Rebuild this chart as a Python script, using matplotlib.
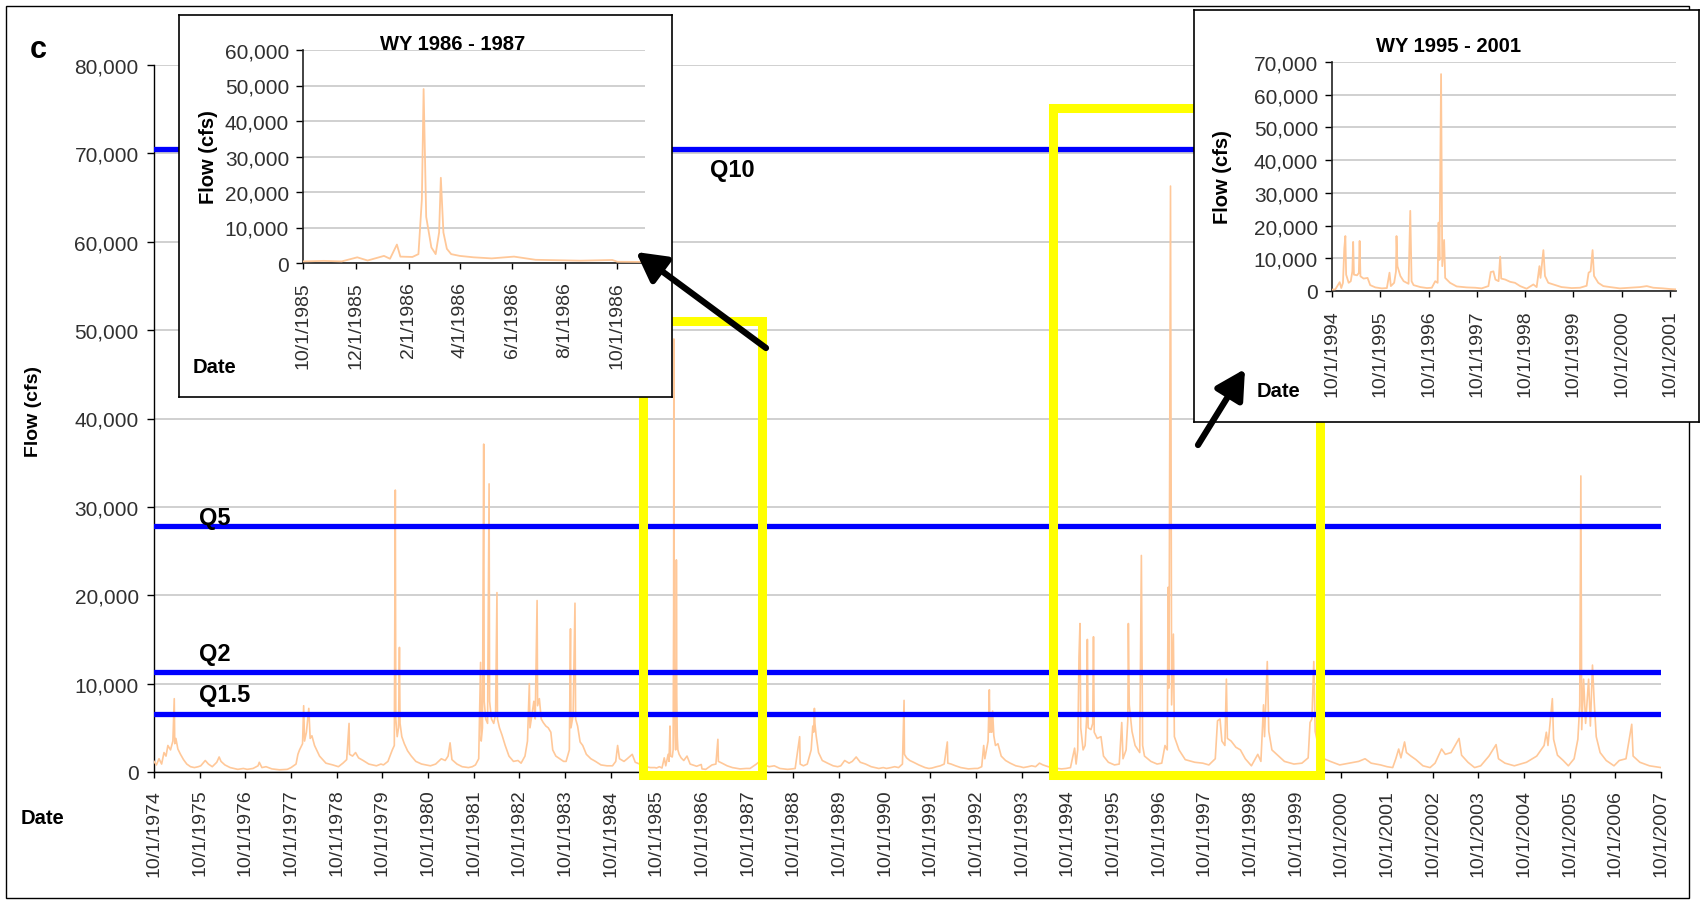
import matplotlib
matplotlib.use("Agg")
import matplotlib.pyplot as plt
import matplotlib.dates as mdates
from matplotlib.ticker import FuncFormatter, MultipleLocator
from matplotlib.patches import Rectangle
import pandas as pd

plt.rcParams['font.family'] = ['Liberation Sans', 'DejaVu Sans']

# ---------------- data (daily flow, cfs, key points) ----------------
flow_1974_1980 = [
    ("1974-10-01", 1200), ("1974-10-20", 800), ("1974-11-10", 1500), ("1974-12-01", 900),
    ("1974-12-20", 2200), ("1975-01-05", 1800), ("1975-01-20", 3000), ("1975-02-10", 2500),
    ("1975-03-01", 3500), ("1975-03-12", 8300), ("1975-03-16", 3200), ("1975-03-25", 3800),
    ("1975-04-10", 2600), ("1975-05-01", 2000), ("1975-05-25", 1400), ("1975-06-20", 900),
    ("1975-07-20", 600), ("1975-08-20", 500), ("1975-09-20", 600),
    ("1975-10-10", 700), ("1975-11-15", 1300), ("1975-12-10", 900), ("1976-01-10", 600),
    ("1976-02-15", 1100), ("1976-03-05", 1700), ("1976-03-20", 1200), ("1976-04-20", 800),
    ("1976-06-01", 500), ("1976-08-01", 300), ("1976-09-15", 400),
    ("1976-10-15", 300), ("1976-12-01", 400), ("1977-01-10", 700), ("1977-01-20", 1100),
    ("1977-02-10", 500), ("1977-03-15", 600), ("1977-05-01", 350), ("1977-07-01", 250),
    ("1977-09-01", 300),
    ("1977-10-01", 500), ("1977-11-10", 900), ("1977-11-25", 2000), ("1977-12-08", 2500),
    ("1978-01-01", 3200), ("1978-01-10", 7500), ("1978-01-17", 3500), ("1978-02-01", 4500),
    ("1978-02-20", 7200), ("1978-03-03", 3800), ("1978-03-17", 4100), ("1978-04-07", 3000),
    ("1978-05-17", 1800), ("1978-07-07", 1000), ("1978-08-31", 800),
    ("1978-10-15", 600), ("1978-11-20", 1000), ("1978-12-20", 1400), ("1979-01-08", 5500),
    ("1979-01-12", 2000), ("1979-02-05", 1800), ("1979-03-01", 2200), ("1979-03-25", 1600),
    ("1979-05-01", 1300), ("1979-06-15", 900), ("1979-08-15", 700), ("1979-09-20", 900),
    ("1979-10-10", 800), ("1979-11-15", 1200), ("1979-12-20", 2500), ("1980-01-05", 3000),
    ("1980-01-13", 31900), ("1980-01-17", 6000), ("1980-01-28", 4000), ("1980-02-08", 5000),
    ("1980-02-15", 14100), ("1980-02-20", 5500), ("1980-03-05", 4000), ("1980-03-25", 3200),
    ("1980-04-20", 2400), ("1980-05-20", 1800), ("1980-06-25", 1200), ("1980-08-10", 900),
    ("1980-09-15", 800),
]

flow_1980_1985 = [
    ("1980-10-20", 700), ("1980-12-01", 900), ("1981-01-15", 1500), ("1981-02-15", 1300),
    ("1981-03-10", 1800), ("1981-03-26", 3300), ("1981-04-10", 1400), ("1981-05-20", 900),
    ("1981-07-01", 600), ("1981-08-20", 500), ("1981-09-20", 600),
    ("1981-10-15", 800), ("1981-11-10", 1500), ("1981-11-25", 12400), ("1981-11-30", 3500),
    ("1981-12-10", 5000), ("1981-12-20", 37100), ("1981-12-24", 8000), ("1982-01-05", 6000),
    ("1982-01-20", 5500), ("1982-02-01", 32600), ("1982-02-05", 8000), ("1982-02-20", 6000),
    ("1982-03-10", 5500), ("1982-03-25", 6500), ("1982-04-05", 20300), ("1982-04-09", 6000),
    ("1982-04-25", 5000), ("1982-05-15", 4200), ("1982-06-10", 3000), ("1982-07-10", 1800),
    ("1982-08-15", 1200), ("1982-09-20", 1300),
    ("1982-10-15", 1000), ("1982-11-15", 1800), ("1982-12-05", 3500), ("1982-12-20", 10000),
    ("1982-12-25", 5000), ("1983-01-10", 6500), ("1983-01-25", 8000), ("1983-02-05", 6000),
    ("1983-02-20", 19400), ("1983-02-24", 7500), ("1983-03-10", 8300), ("1983-03-25", 6000),
    ("1983-04-10", 5600), ("1983-05-01", 5200), ("1983-05-20", 5000), ("1983-06-10", 4500),
    ("1983-06-25", 2500), ("1983-07-20", 1800), ("1983-08-20", 1500), ("1983-09-20", 1200),
    ("1983-10-10", 1200), ("1983-11-05", 2500), ("1983-11-14", 16200), ("1983-11-18", 5000),
    ("1983-12-05", 6400), ("1983-12-20", 19100), ("1983-12-25", 6000), ("1984-01-10", 5200),
    ("1984-01-30", 3400), ("1984-02-20", 3000), ("1984-03-20", 2000), ("1984-04-25", 1500),
    ("1984-06-01", 1200), ("1984-07-15", 800), ("1984-09-01", 700),
    ("1984-10-15", 700), ("1984-11-10", 1200), ("1984-11-25", 3000), ("1984-12-10", 1500),
    ("1985-01-15", 1200), ("1985-02-10", 1500), ("1985-03-22", 2000), ("1985-04-15", 1100),
    ("1985-05-20", 900), ("1985-07-01", 600), ("1985-08-15", 500), ("1985-09-20", 500),
]

flow_1985_1994 = [
    ("1985-10-01", 450), ("1985-10-10", 500), ("1985-10-25", 600), ("1985-11-15", 450),
    ("1985-12-03", 1600), ("1985-12-15", 700), ("1986-01-03", 2000), ("1986-01-10", 1200),
    ("1986-01-18", 5200), ("1986-01-22", 1800), ("1986-02-05", 1700), ("1986-02-12", 2500),
    ("1986-02-16", 18000), ("1986-02-18", 49000), ("1986-02-21", 13000), ("1986-02-27", 4400),
    ("1986-03-04", 2500), ("1986-03-08", 8600), ("1986-03-10", 24000), ("1986-03-13", 8600),
    ("1986-03-17", 4000), ("1986-03-22", 2500), ("1986-04-01", 2000), ("1986-04-17", 1600),
    ("1986-05-08", 1300), ("1986-06-03", 1800), ("1986-06-28", 900), ("1986-08-19", 650),
    ("1986-09-25", 850), ("1986-10-01", 350), ("1986-10-31", 300),
    ("1986-11-20", 500), ("1986-12-20", 800), ("1987-01-20", 900), ("1987-02-05", 3700),
    ("1987-02-09", 1200), ("1987-03-10", 1000), ("1987-04-20", 700), ("1987-06-01", 500),
    ("1987-08-01", 350), ("1987-09-20", 400),
    ("1987-10-20", 400), ("1987-12-10", 900), ("1988-01-05", 1200), ("1988-02-15", 800),
    ("1988-03-20", 600), ("1988-05-01", 700), ("1988-06-15", 400), ("1988-08-15", 300),
    ("1988-09-20", 350),
    ("1988-10-15", 400), ("1988-11-20", 4000), ("1988-11-24", 900), ("1988-12-20", 700),
    ("1989-01-20", 900), ("1989-02-20", 2500), ("1989-03-05", 5200), ("1989-03-12", 4500),
    ("1989-03-18", 7200), ("1989-03-22", 5500), ("1989-04-01", 4100), ("1989-04-20", 2200),
    ("1989-05-20", 1300), ("1989-07-01", 1000), ("1989-08-15", 700), ("1989-09-20", 600),
    ("1989-10-15", 700), ("1989-11-15", 1300), ("1989-12-20", 1000), ("1990-01-15", 1200),
    ("1990-02-15", 1700), ("1990-03-20", 1100), ("1990-05-01", 900), ("1990-06-15", 600),
    ("1990-08-15", 400), ("1990-09-20", 500),
    ("1990-10-15", 400), ("1990-11-20", 500), ("1990-12-20", 600), ("1991-01-20", 500),
    ("1991-02-20", 900), ("1991-03-05", 8100), ("1991-03-08", 2000), ("1991-03-25", 1600),
    ("1991-04-20", 1300), ("1991-05-20", 1100), ("1991-07-01", 800), ("1991-08-20", 500),
    ("1991-09-20", 400),
    ("1991-10-15", 450), ("1991-11-20", 600), ("1991-12-20", 700), ("1992-01-20", 900),
    ("1992-02-14", 3400), ("1992-02-18", 1000), ("1992-03-15", 900), ("1992-04-20", 700),
    ("1992-06-01", 500), ("1992-08-01", 350), ("1992-09-20", 400),
    ("1992-10-15", 400), ("1992-11-15", 600), ("1992-12-01", 3000), ("1992-12-10", 1500),
    ("1993-01-05", 3500), ("1993-01-15", 9300), ("1993-01-20", 4500), ("1993-01-28", 6200),
    ("1993-02-03", 4500), ("1993-02-10", 6900), ("1993-02-20", 4100), ("1993-03-05", 3000),
    ("1993-03-25", 3200), ("1993-04-20", 1800), ("1993-05-25", 1300), ("1993-07-01", 1000),
    ("1993-08-15", 700), ("1993-09-20", 600),
    ("1993-10-15", 500), ("1993-11-20", 600), ("1993-12-20", 700), ("1994-01-20", 600),
    ("1994-02-20", 1000), ("1994-03-20", 800), ("1994-05-01", 600), ("1994-06-15", 450),
    ("1994-08-15", 350), ("1994-09-20", 400),
]

flow_1994_2001 = [
    ("1994-10-26", 500), ("1994-11-28", 2700), ("1994-12-10", 900), ("1994-12-23", 2500),
    ("1995-01-02", 13000), ("1995-01-10", 16800), ("1995-01-16", 5000), ("1995-02-04", 2500),
    ("1995-02-20", 3000), ("1995-03-04", 6000), ("1995-03-10", 15000), ("1995-03-16", 5000),
    ("1995-04-08", 4800), ("1995-04-22", 5500), ("1995-04-28", 15300), ("1995-05-04", 4500),
    ("1995-05-28", 3800), ("1995-06-27", 4000), ("1995-07-17", 1800), ("1995-08-25", 1100),
    ("1995-10-13", 800), ("1995-11-20", 900), ("1995-12-10", 5600), ("1995-12-20", 1500),
    ("1996-01-14", 2500), ("1996-01-28", 6000), ("1996-02-01", 16800), ("1996-02-08", 7600),
    ("1996-03-01", 4600), ("1996-03-26", 3000), ("1996-05-02", 2200), ("1996-05-15", 24500),
    ("1996-05-25", 3000), ("1996-06-09", 1800), ("1996-07-30", 1200), ("1996-09-18", 900),
    ("1996-10-25", 1000), ("1996-11-20", 3000), ("1996-12-08", 2500), ("1996-12-15", 20900),
    ("1996-12-22", 9500), ("1997-01-03", 66300), ("1997-01-12", 7600), ("1997-01-26", 15600),
    ("1997-02-03", 4000), ("1997-03-12", 2500), ("1997-05-01", 1400), ("1997-07-16", 1100),
    ("1997-09-18", 1000),
    ("1997-11-06", 800), ("1997-12-27", 1500), ("1998-01-14", 5800), ("1998-02-03", 6000),
    ("1998-02-18", 3500), ("1998-03-14", 3000), ("1998-03-26", 10500), ("1998-04-03", 3800),
    ("1998-05-03", 3500), ("1998-06-10", 2800), ("1998-07-16", 2500), ("1998-08-24", 1500),
    ("1998-10-12", 700), ("1998-12-02", 2000), ("1998-12-27", 1200), ("1999-01-17", 7600),
    ("1999-01-25", 4000), ("1999-02-16", 12500), ("1999-02-28", 4600), ("1999-03-25", 2500),
    ("1999-05-02", 2000), ("1999-07-03", 1200), ("1999-09-17", 900),
    ("1999-11-20", 1000), ("2000-01-09", 1600), ("2000-01-24", 5600), ("2000-02-08", 6000),
    ("2000-02-23", 12500), ("2000-03-05", 4600), ("2000-04-06", 2500), ("2000-05-14", 1500),
    ("2000-07-04", 1200), ("2000-09-17", 800),
    ("2000-12-01", 1000), ("2001-02-16", 1200), ("2001-04-08", 1500), ("2001-05-27", 1000),
    ("2001-08-10", 800), ("2001-10-01", 600), ("2001-11-15", 500),
]

flow_2001_2007 = [
    ("2001-12-10", 1500), ("2002-01-02", 2600), ("2002-01-20", 1600), ("2002-02-18", 3400),
    ("2002-03-05", 2200), ("2002-04-10", 1800), ("2002-05-20", 1400), ("2002-07-15", 700),
    ("2002-09-10", 500),
    ("2002-10-20", 1000), ("2002-12-11", 2600), ("2003-01-10", 2000), ("2003-02-25", 2200),
    ("2003-04-30", 3800), ("2003-05-20", 1900), ("2003-07-10", 1100), ("2003-09-01", 500),
    ("2003-10-20", 700), ("2003-12-25", 1800), ("2004-02-20", 3100), ("2004-03-10", 1500),
    ("2004-05-01", 1000), ("2004-07-15", 700),
    ("2004-10-20", 1100), ("2005-01-10", 1800), ("2005-03-10", 3000), ("2005-03-28", 4500),
    ("2005-04-10", 3000), ("2005-05-15", 8300), ("2005-05-25", 3700), ("2005-06-25", 1900),
    ("2005-08-10", 1300), ("2005-09-20", 700),
    ("2005-11-05", 1500), ("2005-12-05", 3700), ("2005-12-20", 7500), ("2005-12-29", 33500),
    ("2006-01-05", 4800), ("2006-01-20", 10500), ("2006-02-05", 5500), ("2006-03-01", 10500),
    ("2006-03-15", 5200), ("2006-04-01", 12100), ("2006-04-15", 7900), ("2006-05-01", 4000),
    ("2006-06-01", 2200), ("2006-07-20", 1300), ("2006-09-20", 700),
    ("2006-11-01", 1300), ("2006-12-25", 1500), ("2007-02-09", 5400), ("2007-02-20", 1800),
    ("2007-04-15", 1100), ("2007-07-01", 700), ("2007-10-01", 500),
]

q_levels = [70500, 27870, 11350, 6560]
q_names = ["Q10", "Q5", "Q2", "Q1.5"]

box1_dates = ("1985-06-17", "1988-01-25")
box1_flows = (-340, 51030)
box2_dates = ("1994-06-07", "2000-04-12")
box2_flows = (-340, 75150)

inset1_title = "WY 1986 - 1987"
inset1_xlim = ("1985-10-01", "1986-11-02")
inset2_title = "WY 1995 - 2001"
inset2_xlim = ("1994-10-01", "2001-11-15")

# ---------------- assemble ----------------
allpts = flow_1974_1980 + flow_1980_1985 + flow_1985_1994 + flow_1994_2001 + flow_2001_2007
dates = pd.to_datetime([d for d, _ in allpts])
flows = [v for _, v in allpts]
series = pd.Series(flows, index=dates)

W, H = 1700, 904
def fa(l, t, r, b):
    return [l / W, 1 - b / H, (r - l) / W, (b - t) / H]
def fx(x):
    return x / W
def fy(y):
    return 1 - y / H

LINE = '#FFC899'
TICKC = '#303030'
GRID = '#C8C8C8'

fig = plt.figure(figsize=(17, 9.04), dpi=100)

# figure border
fig.patches.append(Rectangle((fx(6), fy(899)), fx(1689) - fx(6), fy(7) - fy(899),
                             transform=fig.transFigure, fill=False, ec='black', lw=1.0, zorder=-1))

comma = FuncFormatter(lambda v, p: f"{int(v):,}")
mdy = FuncFormatter(lambda v, p: (lambda d: f"{d.month}/{d.day}/{d.year}")(mdates.num2date(v)))

# ---------------- main axes ----------------
ax = fig.add_axes(fa(154, 66, 1661, 773))
ax.plot(series.index, series.values, color=LINE, lw=1.2, zorder=3)
ax.set_xlim(pd.Timestamp("1974-10-01"), pd.Timestamp("2007-10-01"))
ax.set_ylim(0, 80000)
ax.yaxis.set_major_locator(MultipleLocator(10000))
ax.yaxis.set_major_formatter(comma)
ax.xaxis.set_major_locator(mdates.YearLocator(base=1, month=10, day=1))
ax.xaxis.set_major_formatter(mdy)
ax.grid(axis='y', color=GRID, lw=1.2, zorder=0)
ax.set_axisbelow(True)
for s in ['top', 'right']:
    ax.spines[s].set_visible(False)
for s in ['left', 'bottom']:
    ax.spines[s].set_color('black')
    ax.spines[s].set_linewidth(1.0)
ax.tick_params(axis='y', direction='out', length=5, width=1, labelsize=15, labelcolor=TICKC, pad=6)
ax.tick_params(axis='x', direction='out', length=4, width=1, labelsize=14, labelcolor=TICKC,
               labelrotation=90, pad=8)
for q in q_levels:
    ax.axhline(q, color='#0000FF', lw=3.8, zorder=4)

for (d0, d1), (f0, f1) in [(box1_dates, box1_flows), (box2_dates, box2_flows)]:
    x0 = mdates.date2num(pd.Timestamp(d0))
    x1 = mdates.date2num(pd.Timestamp(d1))
    ax.add_patch(Rectangle((x0, f0), x1 - x0, f1 - f0, fill=False, ec='#FFFF00', lw=6.5,
                           zorder=5, clip_on=False, joinstyle='miter'))

# labels in main
fig.text(fx(38), fy(50), "c", fontsize=22, fontweight='bold', ha='center', va='center')
fig.text(fx(34), fy(412), "Flow (cfs)", fontsize=14, fontweight='bold', rotation=90,
         ha='center', va='center')
fig.text(fx(43), fy(819), "Date", fontsize=14.5, fontweight='bold', ha='center', va='center')
q_pos = [(710, 171), (199, 519), (199, 655), (199, 696)]
for name, (px, py) in zip(q_names, q_pos):
    fig.text(fx(px), fy(py), name, fontsize=17, fontweight='bold', ha='left', va='center')

# ---------------- inset 1 ----------------
b1 = fig.add_axes(fa(179, 16, 672, 398))
b1.set_xticks([]); b1.set_yticks([])
for s in b1.spines.values():
    s.set_color('black'); s.set_linewidth(1.2)
a1 = fig.add_axes(fa(303, 51, 645, 264))
a1.patch.set_alpha(0)
m1 = (series.index >= pd.Timestamp(inset1_xlim[0])) & (series.index <= pd.Timestamp(inset1_xlim[1]))
a1.plot(series.index[m1], series.values[m1], color=LINE, lw=1.3, zorder=3)
a1.set_xlim(pd.Timestamp(inset1_xlim[0]), pd.Timestamp(inset1_xlim[1]))
a1.set_ylim(0, 60000)
a1.yaxis.set_major_locator(MultipleLocator(10000))
a1.yaxis.set_major_formatter(comma)
a1.xaxis.set_major_locator(mdates.MonthLocator(bymonth=[2, 4, 6, 8, 10, 12], bymonthday=1))
a1.xaxis.set_major_formatter(mdy)

# ---------------- inset 2 ----------------
b2 = fig.add_axes(fa(1194, 11, 1699, 423))
b2.set_xticks([]); b2.set_yticks([])
for s in b2.spines.values():
    s.set_color('black'); s.set_linewidth(1.2)
a2 = fig.add_axes(fa(1332, 63, 1676, 292))
a2.patch.set_alpha(0)
m2 = (series.index >= pd.Timestamp(inset2_xlim[0]) - pd.Timedelta(days=30)) & \
     (series.index <= pd.Timestamp(inset2_xlim[1]))
a2.plot(series.index[m2], series.values[m2], color=LINE, lw=1.3, zorder=3)
a2.set_xlim(pd.Timestamp(inset2_xlim[0]), pd.Timestamp(inset2_xlim[1]))
a2.set_ylim(0, 70000)
a2.yaxis.set_major_locator(MultipleLocator(10000))
a2.yaxis.set_major_formatter(comma)
a2.xaxis.set_major_locator(mdates.YearLocator(base=1, month=10, day=1))
a2.xaxis.set_major_formatter(mdy)

for a in (a1, a2):
    a.grid(axis='y', color=GRID, lw=1.2, zorder=0)
    a.set_axisbelow(True)
    for s in ['top', 'right']:
        a.spines[s].set_visible(False)
    for s in ['left', 'bottom']:
        a.spines[s].set_color('#222222'); a.spines[s].set_linewidth(1.2)
    a.tick_params(axis='y', direction='out', length=5, width=1, labelsize=15, labelcolor=TICKC, pad=5)
    a.tick_params(axis='x', direction='out', length=4, width=1, labelsize=14, labelcolor=TICKC,
                  labelrotation=90, pad=9)

fig.text(fx(453), fy(45), inset1_title, fontsize=14.5, fontweight='bold', ha='center', va='center')
fig.text(fx(209), fy(157), "Flow (cfs)", fontsize=14.5, fontweight='bold', rotation=90, ha='center', va='center')
fig.text(fx(215), fy(368), "Date", fontsize=14.5, fontweight='bold', ha='center', va='center')
fig.text(fx(1448), fy(46), inset2_title, fontsize=14.5, fontweight='bold', ha='center', va='center')
fig.text(fx(1223), fy(177), "Flow (cfs)", fontsize=14.5, fontweight='bold', rotation=90, ha='center', va='center')
fig.text(fx(1279), fy(392), "Date", fontsize=14.5, fontweight='bold', ha='center', va='center')

# ---------------- arrows overlay ----------------
ov = fig.add_axes([0, 0, 1, 1])
ov.set_xlim(0, W); ov.set_ylim(H, 0); ov.axis('off'); ov.patch.set_alpha(0)
for tail, tip in [((766, 349), (636, 253)), ((1198, 446), (1245, 370))]:
    ov.annotate('', xy=tip, xytext=tail,
                arrowprops=dict(arrowstyle='-|>,head_length=1.1,head_width=0.6', lw=4.5,
                                color='black', mutation_scale=16, shrinkA=0, shrinkB=0))

fig.savefig("out.png", dpi=100, facecolor='white')
